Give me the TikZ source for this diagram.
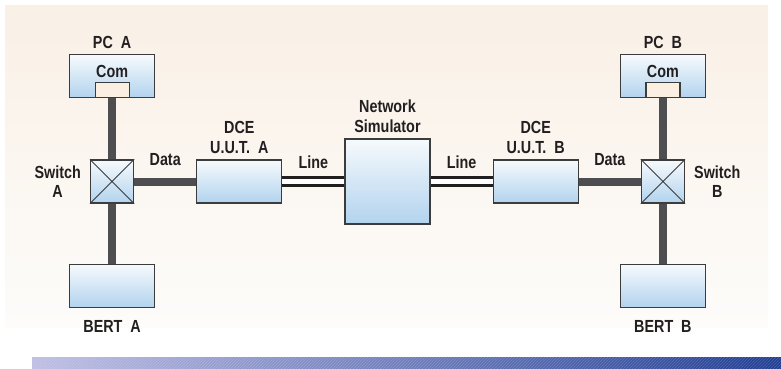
\documentclass[tikz,border=0pt]{standalone}
\usepackage{fontspec}
\newfontfamily\lblfont{Liberation Sans}[FakeStretch=0.82]
\usetikzlibrary{positioning,patterns}

\definecolor{ink}{RGB}{35,31,32}
\definecolor{edge}{RGB}{60,60,60}
\definecolor{boxtop}{RGB}{246,250,253}
\definecolor{boxbot}{RGB}{178,211,238}
\definecolor{portfill}{RGB}{251,239,226}
\definecolor{busgray}{RGB}{78,78,80}
\definecolor{paneltop}{RGB}{249,240,230}
\definecolor{panelbot}{RGB}{253,252,250}
\definecolor{barleft}{RGB}{190,190,228}
\definecolor{barright}{RGB}{32,62,148}

\begin{document}
\begin{tikzpicture}[
  x=1pt,y=-1pt,
  lbl/.style={font=\lblfont\bfseries\fontsize{17.5}{19.5}\selectfont,text=ink,inner sep=0pt,align=center},
  unit/.style={draw=edge,line width=1.2pt,top color=boxtop,bottom color=boxbot,
    minimum width=85pt,minimum height=43pt,inner sep=0pt},
  sw/.style={unit,minimum width=43pt},
  port/.style={draw=edge,line width=1.2pt,fill=portfill,minimum width=34pt,minimum height=15pt,inner sep=0pt},
  bus/.style={busgray,line width=8pt},
  wire/.style={ink,line width=2.6pt,double=white,double distance=5.6pt},
]
\useasboundingbox (0,0) rectangle (781,368);

% backdrop and footer strip
\fill[top color=paneltop,bottom color=panelbot] (5,5) rectangle (768,327);
\fill[left color=barleft,right color=barright] (32,357) rectangle (781,368);
\fill[pattern=north east lines,pattern color=white,opacity=0.18] (32,357) rectangle (781,368);

% ===== middle: simulator and the two units under test =====
\node[unit,minimum height=85pt] (ns) at (387.5,181.5) {};
\node[lbl,above=6pt of ns] (nsl) {Network\\Simulator};
\node[unit,left=62pt of ns] (dcea) {};
\node[unit,right=62pt of ns] (dceb) {};
\node[lbl,above=6pt of dcea] (dceal) {DCE\\U.U.T.~~A};
\node[lbl,above=6pt of dceb] (dcebl) {DCE\\U.U.T.~~B};

% ===== side A =====
\node[sw,left=62pt of dcea] (swa) {};
\draw[edge,line width=0.9pt] (swa.north west) -- (swa.south east) (swa.south west) -- (swa.north east);
\node[lbl,left=9pt of swa] (swal) {Switch\\A};
\node[unit,above=61pt of swa] (pca) {};
\node[lbl,above=5pt of pca] (pcal) {PC~~A};
\node[lbl,below=10.5pt of pca.north] (coma) {Com};
\node[port,above=0pt of pca.south] (porta) {};
\node[unit,below=60pt of swa] (berta) {};
\node[lbl,below=12pt of berta] (bertal) {BERT~~A};

% ===== side B =====
\node[sw,right=62pt of dceb] (swb) {};
\draw[edge,line width=0.9pt] (swb.north west) -- (swb.south east) (swb.south west) -- (swb.north east);
\node[lbl,right=9pt of swb] (swbl) {Switch\\B};
\node[unit,above=61pt of swb] (pcb) {};
\node[lbl,above=5pt of pcb] (pcbl) {PC~~B};
\node[lbl,below=10.5pt of pcb.north] (comb) {Com};
\node[port,above=0pt of pcb.south] (portb) {};
\node[unit,below=60pt of swb] (bertb) {};
\node[lbl,below=12pt of bertb] (bertbl) {BERT~~B};

% ===== links =====
\draw[bus] (porta.south) -- (swa.north);
\draw[bus] (swa.south) -- (berta.north);
\draw[bus] (swa.east) -- node[lbl,above=11.5pt] {Data} (dcea.west);
\draw[bus] (portb.south) -- (swb.north);
\draw[bus] (swb.south) -- (bertb.north);
\draw[bus] (dceb.east) -- node[lbl,above=11.5pt] {Data} (swb.west);
\draw[wire] (dcea.east) -- node[lbl,above=11.5pt] {Line} (ns.west);
\draw[wire] (ns.east) -- node[lbl,above=11.5pt] {Line} (dceb.west);
\end{tikzpicture}
\end{document}
